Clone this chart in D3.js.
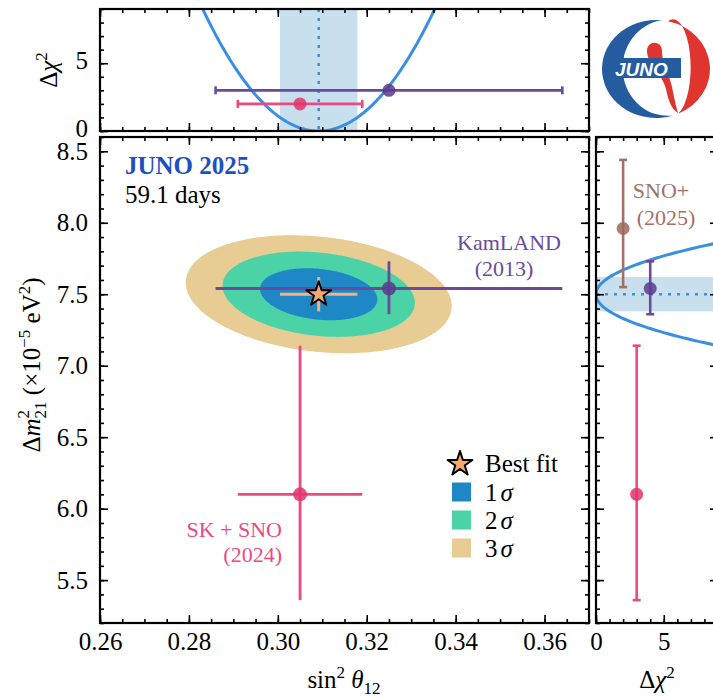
<!DOCTYPE html>
<html><head><meta charset="utf-8">
<script src="https://cdn.jsdelivr.net/npm/d3@7"></script>
<style>
html,body{margin:0;padding:0;background:#fff;}
svg{display:block;}
</style></head><body>
<svg id="chart" width="713" height="697" font-family="Liberation Serif"></svg>
<script>
// ---------------- data ----------------
const sin2Ticks = [0.26, 0.28, 0.30, 0.32, 0.34, 0.36];
const dm2Ticks = [5.5, 6.0, 6.5, 7.0, 7.5, 8.0, 8.5];
const chi2Ticks = [0, 5];

// JUNO 2025 best fit: [value, 1 sigma]
const junoSin2 = [0.3092, 0.0087];
const junoDm2 = [7.50, 0.12];
const junoCorr = -0.2;
const contourLabels = ["3σ", "2σ", "1σ"];
const contourDchi2 = [11.83, 6.18, 2.30];

// other experiments
const expNames = ["KamLAND", "SK + SNO", "SNO+"];
const expYears = ["(2013)", "(2024)", "(2025)"];
const expSin2 = [0.325, 0.305, null];
const expSin2Lo = [0.286, 0.291, null];
const expSin2Hi = [0.364, 0.319, null];
const expDm2 = [7.54, 6.10, 7.96];
const expDm2Lo = [7.36, 5.36, 7.55];
const expDm2Hi = [7.73, 7.14, 8.44];
const expChi2Top = [3, 2, null];
const expChi2Side = [4, 3, 2];

// ---------------- styles ----------------
const SERIF = "Liberation Serif";
const contourColors = ["#e7cc94", "#4bd2a6", "#1e88c6"];
const expColors = ["#6b4a9e", "#ea4a82", "#a27066"];
const expDotColors = ["#5b3a8e", "#e2326f", "#9c685e"];
const curveColor = "#3b8fe2";
const bandColor = "#c8e0ee";
const FS = 25;

const svg = d3.select("#chart").attr("font-family", SERIF);

// scales
const x = d3.scaleLinear([0.26, 0.37], [100, 589]);
const y = d3.scaleLinear([5.2, 8.6], [623, 137]);
const yTop = d3.scaleLinear([0, 9], [131, 9]);
const xSide = d3.scaleLinear([0, 9], [596, 718]);

const minorOf = (lo, hi, step) => d3.range(Math.round(lo / step), Math.round(hi / step) + 1).map(i => +(i * step).toFixed(6));

function drawAxis(pos, scale, orient, majors, minors, labelFmt, padding) {
  const mk = {left: d3.axisLeft, right: d3.axisRight, top: d3.axisTop, bottom: d3.axisBottom}[orient];
  const tr = (orient === "left" || orient === "right") ? `translate(${pos},0)` : `translate(0,${pos})`;
  const gMin = svg.append("g").attr("transform", tr)
    .call(mk(scale).tickValues(minors).tickSize(-4).tickFormat(""));
  const gMaj = svg.append("g").attr("transform", tr)
    .call(mk(scale).tickValues(majors).tickSize(-8).tickPadding(padding || 0).tickFormat(labelFmt || (() => "")));
  [gMin, gMaj].forEach(g => {
    g.select(".domain").remove();
    g.selectAll("line").attr("stroke", "#000").attr("stroke-width", 1.6);
    g.attr("font-family", SERIF).attr("font-size", FS);
    g.selectAll("text").attr("fill", "#000");
  });
  return gMaj;
}

function frame(x0, y0, x1, y1) {
  svg.append("rect").attr("x", x0).attr("y", y0).attr("width", x1 - x0).attr("height", y1 - y0)
    .attr("fill", "none").attr("stroke", "#000").attr("stroke-width", 2.2);
}

// clip paths
const defs = svg.append("defs");
defs.append("clipPath").attr("id", "clipTop").append("rect").attr("x", 100).attr("y", 9).attr("width", 489).attr("height", 122);
defs.append("clipPath").attr("id", "clipSide").append("rect").attr("x", 596).attr("y", 137).attr("width", 122).attr("height", 486);
defs.append("clipPath").attr("id", "clipMain").append("rect").attr("x", 100).attr("y", 137).attr("width", 489).attr("height", 486);

// ---------------- top panel ----------------
const gTop = svg.append("g").attr("clip-path", "url(#clipTop)");
gTop.append("rect")
  .attr("x", x(junoSin2[0] - junoSin2[1])).attr("y", 9)
  .attr("width", x(junoSin2[0] + junoSin2[1]) - x(junoSin2[0] - junoSin2[1])).attr("height", 122)
  .attr("fill", bandColor);
const topCurve = d3.range(0.26, 0.3701, 0.0005).map(s => [s, Math.pow((s - junoSin2[0]) / junoSin2[1], 2)]).filter(d => d[1] < 10);
gTop.append("path").datum(topCurve)
  .attr("d", d3.line().x(d => x(d[0])).y(d => yTop(d[1])))
  .attr("fill", "none").attr("stroke", curveColor).attr("stroke-width", 3);
gTop.append("line").attr("x1", x(junoSin2[0])).attr("x2", x(junoSin2[0])).attr("y1", 9).attr("y2", 131)
  .attr("stroke", curveColor).attr("stroke-width", 2.5).attr("stroke-dasharray", "3,6");
[0, 1].forEach(i => {
  const yy = yTop(expChi2Top[i]);
  gTop.append("line").attr("x1", x(expSin2Lo[i])).attr("x2", x(expSin2Hi[i])).attr("y1", yy).attr("y2", yy)
    .attr("stroke", expColors[i]).attr("stroke-width", 2.6);
  [expSin2Lo[i], expSin2Hi[i]].forEach(v => gTop.append("line").attr("x1", x(v)).attr("x2", x(v)).attr("y1", yy - 4).attr("y2", yy + 4)
    .attr("stroke", expColors[i]).attr("stroke-width", 2.6));
  gTop.append("circle").attr("cx", x(expSin2[i])).attr("cy", yy).attr("r", 6.5)
    .attr("fill", expDotColors[i]).attr("fill-opacity", 0.85);
});
const topYAxis = drawAxis(100, yTop, "left", chi2Ticks, minorOf(0, 9, 1), d => d, 12);
topYAxis.selectAll("text").attr("dy", "0.22em");
drawAxis(589, yTop, "right", chi2Ticks, minorOf(0, 9, 1));
drawAxis(131, x, "bottom", sin2Ticks, minorOf(0.26, 0.37, 0.005));
drawAxis(9, x, "top", sin2Ticks, minorOf(0.26, 0.37, 0.005));
frame(100, 9, 589, 131);

// ---------------- main panel ----------------
const gMain = svg.append("g").attr("clip-path", "url(#clipMain)");
const tAngles = d3.range(0, 2 * Math.PI, Math.PI / 120);
contourDchi2.forEach((L, i) => {
  const r = Math.sqrt(L);
  const pts = tAngles.map(t => [
    junoSin2[0] + junoSin2[1] * r * Math.cos(t),
    junoDm2[0] + junoDm2[1] * r * (junoCorr * Math.cos(t) + Math.sqrt(1 - junoCorr * junoCorr) * Math.sin(t))
  ]);
  gMain.append("path").datum(pts)
    .attr("d", d3.line().x(d => x(d[0])).y(d => y(d[1])).curve(d3.curveLinearClosed))
    .attr("fill", contourColors[i]);
});
// JUNO error bars
gMain.append("line").attr("x1", x(junoSin2[0] - junoSin2[1])).attr("x2", x(junoSin2[0] + junoSin2[1]))
  .attr("y1", y(junoDm2[0])).attr("y2", y(junoDm2[0])).attr("stroke", "#f7b17c").attr("stroke-width", 3);
gMain.append("line").attr("x1", x(junoSin2[0])).attr("x2", x(junoSin2[0]))
  .attr("y1", y(junoDm2[0] - junoDm2[1])).attr("y2", y(junoDm2[0] + junoDm2[1])).attr("stroke", "#f7b17c").attr("stroke-width", 3);
// experiments
[0, 1].forEach(i => {
  gMain.append("line").attr("x1", x(expSin2Lo[i])).attr("x2", x(expSin2Hi[i])).attr("y1", y(expDm2[i])).attr("y2", y(expDm2[i]))
    .attr("stroke", expColors[i]).attr("stroke-width", 2.8);
  gMain.append("line").attr("x1", x(expSin2[i])).attr("x2", x(expSin2[i])).attr("y1", y(expDm2Lo[i])).attr("y2", y(expDm2Hi[i]))
    .attr("stroke", expColors[i]).attr("stroke-width", 2.8);
  gMain.append("circle").attr("cx", x(expSin2[i])).attr("cy", y(expDm2[i])).attr("r", 7)
    .attr("fill", expDotColors[i]).attr("fill-opacity", 0.85);
});
const starPath = d3.symbol().type(d3.symbolStar).size(190)();
gMain.append("path").attr("d", starPath)
  .attr("transform", `translate(${x(junoSin2[0])},${y(junoDm2[0])})`)
  .attr("fill", "#f7a86c").attr("stroke", "#000").attr("stroke-width", 2).attr("stroke-linejoin", "round");

drawAxis(100, y, "left", dm2Ticks, minorOf(5.2, 8.6, 0.1), d => d.toFixed(1), 12);
drawAxis(589, y, "right", dm2Ticks, minorOf(5.2, 8.6, 0.1));
drawAxis(623, x, "bottom", sin2Ticks, minorOf(0.26, 0.37, 0.005), d => d.toFixed(2), 9);
drawAxis(137, x, "top", sin2Ticks, minorOf(0.26, 0.37, 0.005));
frame(100, 137, 589, 623);

// annotations
svg.append("text").attr("x", 125).attr("y", 174).attr("font-size", FS).attr("font-weight", "bold")
  .attr("fill", "#1d4fc2").text("JUNO 2025");
svg.append("text").attr("x", 125).attr("y", 203).attr("font-size", FS).attr("fill", "#000").text("59.1 days");
svg.append("text").attr("x", 509).attr("y", 250).attr("font-size", 22).attr("text-anchor", "middle").attr("fill", expColors[0]).text(expNames[0]);
svg.append("text").attr("x", 504).attr("y", 276).attr("font-size", 22).attr("text-anchor", "middle").attr("fill", expColors[0]).text(expYears[0]);
svg.append("text").attr("x", 282).attr("y", 537).attr("font-size", 22).attr("text-anchor", "end").attr("fill", expColors[1]).text(expNames[1]);
svg.append("text").attr("x", 282).attr("y", 562).attr("font-size", 22).attr("text-anchor", "end").attr("fill", expColors[1]).text(expYears[1]);

// legend
const leg = svg.append("g");
leg.append("path").attr("d", starPath).attr("transform", "translate(460,464)")
  .attr("fill", "#f7a86c").attr("stroke", "#000").attr("stroke-width", 2).attr("stroke-linejoin", "round");
leg.append("text").attr("x", 485).attr("y", 472).attr("font-size", FS).text("Best fit");
["1", "2", "3"].forEach((n, i) => {
  const cy = 492 + i * 28;
  leg.append("rect").attr("x", 452).attr("y", cy - 9.5).attr("width", 19).attr("height", 19).attr("fill", contourColors[2 - i]);
  const t = leg.append("text").attr("x", 485).attr("y", cy + 8.5).attr("font-size", FS);
  t.append("tspan").text(n);
  t.append("tspan").attr("dx", 3).attr("font-style", "italic").text("σ");
});

// axis labels
const xl = svg.append("text").attr("x", 344).attr("y", 688).attr("font-size", FS).attr("text-anchor", "middle");
xl.append("tspan").text("sin");
xl.append("tspan").attr("dy", -10).attr("font-size", 17).text("2");
xl.append("tspan").attr("dy", 10).text(" ");
xl.append("tspan").attr("font-style", "italic").text("θ");
xl.append("tspan").attr("dy", 6).attr("font-size", 17).text("12");

const yl = svg.append("text").attr("transform", "translate(40,365) rotate(-90)").attr("font-size", FS).attr("text-anchor", "middle");
yl.append("tspan").text("Δ");
yl.append("tspan").attr("font-style", "italic").text("m");
yl.append("tspan").attr("dy", -11).attr("font-size", 17).text("2");
yl.append("tspan").attr("dx", -8.5).attr("dy", 17).attr("font-size", 17).text("21");
yl.append("tspan").attr("dy", -6).text(" (×10");
yl.append("tspan").attr("dy", -10).attr("font-size", 17).text("−5");
yl.append("tspan").attr("dy", 10).text(" eV");
yl.append("tspan").attr("dy", -10).attr("font-size", 17).text("2");
yl.append("tspan").attr("dy", 10).text(")");

const ytl = svg.append("text").attr("transform", "translate(57,70) rotate(-90)").attr("font-size", FS).attr("text-anchor", "middle");
ytl.append("tspan").text("Δ");
ytl.append("tspan").attr("font-style", "italic").text("χ");
ytl.append("tspan").attr("dy", -10).attr("font-size", 17).text("2");

// ---------------- side panel ----------------
const gSide = svg.append("g").attr("clip-path", "url(#clipSide)");
gSide.append("rect").attr("x", 596).attr("width", 122)
  .attr("y", y(junoDm2[0] + junoDm2[1])).attr("height", y(junoDm2[0] - junoDm2[1]) - y(junoDm2[0] + junoDm2[1]))
  .attr("fill", bandColor);
const sideCurve = d3.range(5.2, 8.6001, 0.005).map(m => [m, Math.pow((m - junoDm2[0]) / junoDm2[1], 2)]).filter(d => d[1] < 10);
gSide.append("path").datum(sideCurve)
  .attr("d", d3.line().x(d => xSide(d[1])).y(d => y(d[0])))
  .attr("fill", "none").attr("stroke", curveColor).attr("stroke-width", 3);
gSide.append("line").attr("x1", 596).attr("x2", 718).attr("y1", y(junoDm2[0])).attr("y2", y(junoDm2[0]))
  .attr("stroke", curveColor).attr("stroke-width", 2.5).attr("stroke-dasharray", "3,6");
[0, 1, 2].forEach(i => {
  const xx = xSide(expChi2Side[i]);
  gSide.append("line").attr("x1", xx).attr("x2", xx).attr("y1", y(expDm2Lo[i])).attr("y2", y(expDm2Hi[i]))
    .attr("stroke", expColors[i]).attr("stroke-width", 2.6);
  [expDm2Lo[i], expDm2Hi[i]].forEach(v => gSide.append("line").attr("x1", xx - 4).attr("x2", xx + 4).attr("y1", y(v)).attr("y2", y(v))
    .attr("stroke", expColors[i]).attr("stroke-width", 2.6));
  gSide.append("circle").attr("cx", xx).attr("cy", y(expDm2[i])).attr("r", 6.5)
    .attr("fill", expDotColors[i]).attr("fill-opacity", 0.85);
});
svg.append("text").attr("x", 661).attr("y", 198).attr("font-size", 22).attr("text-anchor", "middle").attr("fill", expColors[2]).text(expNames[2]);
svg.append("text").attr("x", 666).attr("y", 225).attr("font-size", 22).attr("text-anchor", "middle").attr("fill", expColors[2]).text(expYears[2]);

drawAxis(596, y, "left", dm2Ticks, minorOf(5.2, 8.6, 0.1));
drawAxis(718, y, "right", dm2Ticks, minorOf(5.2, 8.6, 0.1));
drawAxis(623, xSide, "bottom", chi2Ticks, minorOf(0, 9, 1), d => d, 9);
drawAxis(137, xSide, "top", chi2Ticks, minorOf(0, 9, 1));
frame(596, 137, 718, 623);

const xsl = svg.append("text").attr("x", 657).attr("y", 688).attr("font-size", FS).attr("text-anchor", "middle");
xsl.append("tspan").text("Δ");
xsl.append("tspan").attr("font-style", "italic").text("χ");
xsl.append("tspan").attr("dy", -10).attr("font-size", 17).text("2");

// force the serif family on every chart text element
svg.selectAll("text").attr("font-family", SERIF);
svg.selectAll("tspan").attr("font-family", SERIF);

// ---------------- logo ----------------
const logo = svg.append("g").attr("transform", "translate(656,69)");
const blue = "#245c9f", red = "#e0352f";
logo.append("path").attr("d", "M6,-48.7 A54,49 0 1,0 17,46.5 A44,47 0 0,1 6,-48.7 Z").attr("fill", blue);
logo.append("path").attr("d", "M12,-47.8 A54,49 0 0,1 22,44.7 A17,46.5 0 0,0 12,-47.8 Z").attr("fill", red);
logo.append("path").attr("d", "M-9,-18 C-9,-29 6,-29 6,-18 C6,-6 13,4 16,18 C18,28 20,38 22,44 C15,40 12,30 10,20 C7,6 -9,-5 -9,-18 Z").attr("fill", red);
logo.append("rect").attr("x", -46).attr("y", -11).attr("width", 71).attr("height", 20).attr("fill", blue);
logo.append("text").attr("x", -41).attr("y", 6.5).attr("font-family", "Liberation Sans")
  .attr("font-weight", "bold").attr("font-style", "italic").attr("font-size", 19).attr("fill", "#fff").text("JUNO");
</script>
</body></html>
